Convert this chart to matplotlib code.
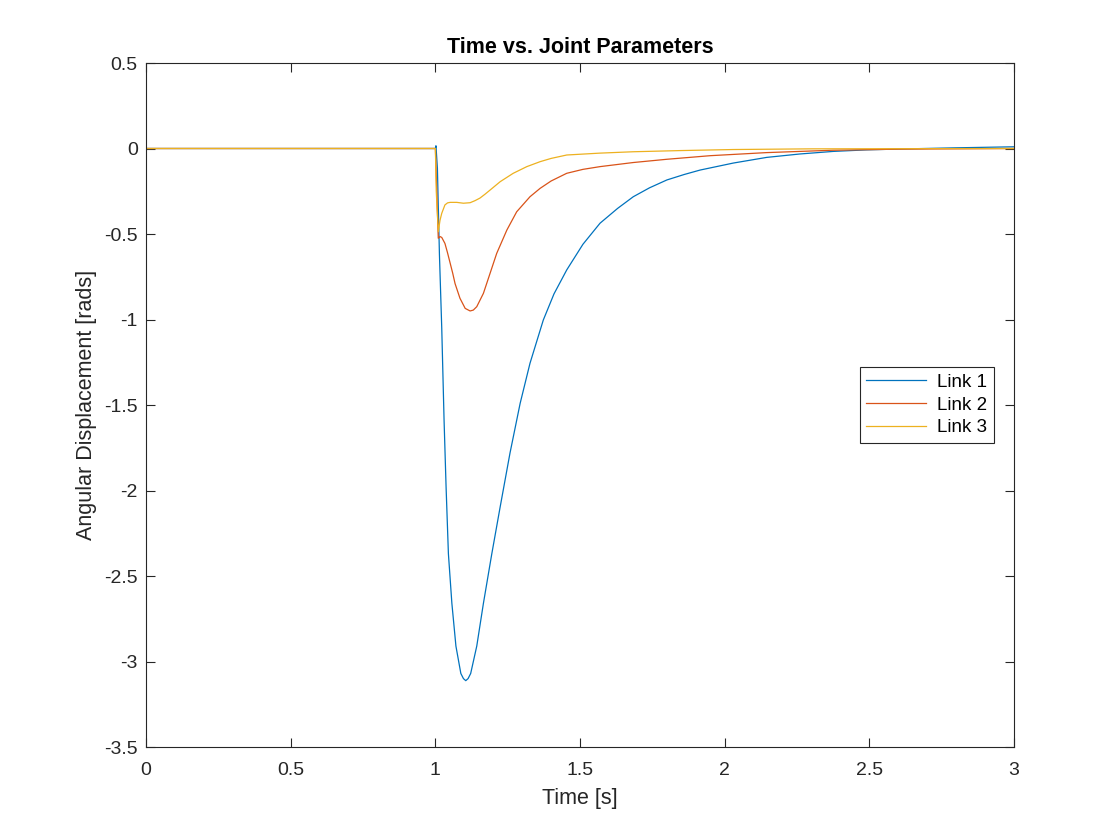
import matplotlib
matplotlib.use("Agg")

import matplotlib.pyplot as plt

# values
t_link1 = [0.0, 1.0, 1.002, 1.007, 1.014, 1.022, 1.030, 1.037, 1.045, 1.057,
           1.071, 1.088, 1.097, 1.105, 1.113, 1.122, 1.143, 1.166, 1.195, 1.224,
           1.258, 1.293, 1.327, 1.373, 1.41, 1.454, 1.51, 1.569, 1.63, 1.684,
           1.74, 1.80, 1.86, 1.915, 2.03, 2.145, 2.26, 2.375, 2.49, 2.606,
           2.8, 3.0]
q_link1 = [0.0, 0.0, 0.016, -0.116, -0.62, -1.05, -1.588, -1.98, -2.37, -2.66,
           -2.91, -3.07, -3.10, -3.112, -3.10, -3.07, -2.91, -2.66, -2.37, -2.095,
           -1.78, -1.49, -1.256, -1.003, -0.85, -0.71, -0.56, -0.437, -0.35, -0.282,
           -0.23, -0.184, -0.152, -0.126, -0.085, -0.052, -0.032, -0.017, -0.008, -0.003,
           0.004, 0.01]

t_link2 = [0.0, 1.0, 1.010, 1.016, 1.022, 1.033, 1.042, 1.051, 1.060, 1.068,
           1.085, 1.103, 1.12, 1.131, 1.143, 1.166, 1.189, 1.212, 1.247, 1.281,
           1.327, 1.362, 1.40, 1.454, 1.51, 1.569, 1.684, 1.80, 1.95, 2.145,
           2.375, 2.6, 3.0]
q_link2 = [0.0, 0.0, -0.525, -0.515, -0.52, -0.555, -0.61, -0.67, -0.73, -0.79,
           -0.876, -0.935, -0.95, -0.945, -0.925, -0.847, -0.73, -0.613, -0.477, -0.37,
           -0.282, -0.233, -0.19, -0.145, -0.122, -0.106, -0.082, -0.063, -0.042, -0.024,
           -0.01, -0.004, 0.0]

t_link3 = [0.0, 1.0, 1.003, 1.010, 1.016, 1.022, 1.033, 1.042, 1.051, 1.074,
           1.097, 1.12, 1.137, 1.154, 1.171, 1.189, 1.224, 1.269, 1.316, 1.362,
           1.40, 1.454, 1.569, 1.684, 1.85, 2.03, 2.3, 3.0]
q_link3 = [0.0, 0.0, -0.25, -0.487, -0.42, -0.379, -0.33, -0.318, -0.315, -0.315,
           -0.32, -0.317, -0.305, -0.29, -0.268, -0.243, -0.194, -0.145, -0.106, -0.077,
           -0.058, -0.038, -0.027, -0.019, -0.012, -0.006, -0.002, 0.0]

labels = ["Link 1", "Link 2", "Link 3"]
colors = ["#0072BD", "#D95319", "#EDB120"]

x_ticks = [0, 0.5, 1, 1.5, 2, 2.5, 3]
y_ticks = [-3.5, -3, -2.5, -2, -1.5, -1, -0.5, 0, 0.5]

plt.rcParams["font.family"] = ["Liberation Sans", "DejaVu Sans"]

fig = plt.figure(figsize=(11.2, 8.4), dpi=100)
ax = fig.add_axes([0.1304, 0.1107, 0.775, 0.8143])

for t, q, lab, col in zip([t_link1, t_link2, t_link3],
                          [q_link1, q_link2, q_link3], labels, colors):
    ax.plot(t, q, color=col, lw=0.9, label=lab)

ax.set_xlim(0, 3)
ax.set_ylim(-3.5, 0.5)
ax.set_xticks(x_ticks)
ax.set_xticklabels([f"{v:g}" for v in x_ticks])
ax.set_yticks(y_ticks)
ax.set_yticklabels([f"{v:g}" for v in y_ticks])

axis_col = "#262626"
for sp in ax.spines.values():
    sp.set_color(axis_col)
    sp.set_linewidth(0.8)
ax.tick_params(direction="in", length=6.5, width=0.8, color=axis_col,
               labelcolor=axis_col, labelsize=14, top=True, right=True)
ax.tick_params(axis="x", pad=11)
ax.tick_params(axis="y", pad=6)

ax.set_xlabel("Time [s]", fontsize=15.5, color=axis_col, labelpad=6)
ax.set_ylabel("Angular Displacement [rads]", fontsize=15.5, color=axis_col, labelpad=5)
ax.set_title("Time vs. Joint Parameters", fontsize=15.5, fontweight="bold", pad=7)

leg = ax.legend(loc="center", bbox_to_anchor=(0.8995, 0.5), fontsize=13.5,
                handlelength=3.2, fancybox=False, framealpha=1,
                edgecolor=axis_col, borderpad=0.35, labelspacing=0.3,
                handletextpad=0.6)
leg.get_frame().set_linewidth(0.8)

fig.savefig("out.png", dpi=100)
